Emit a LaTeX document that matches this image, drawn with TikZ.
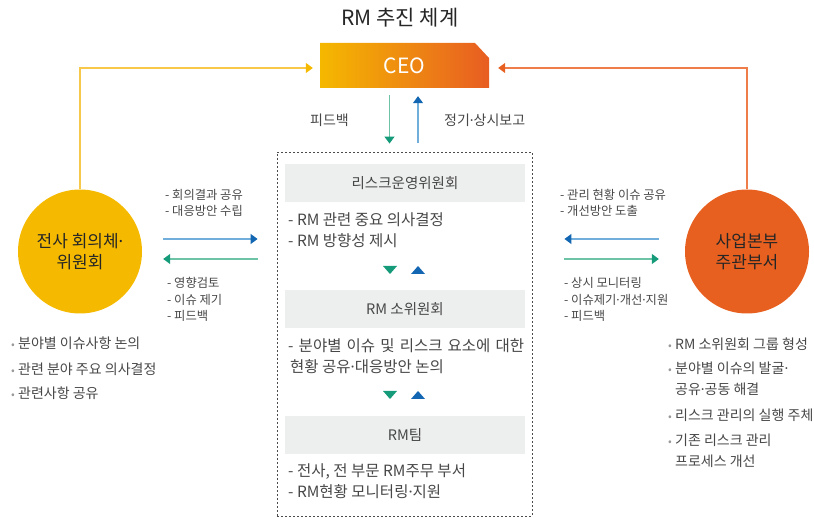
\documentclass[tikz,border=0pt]{standalone}
\usepackage{fontspec}
\setmainfont{Noto Sans CJK KR}
\newfontfamily\dotfont{Noto Sans}
\usetikzlibrary{arrows.meta}

\definecolor{ceoy}{HTML}{F5B800}
\definecolor{ceom}{HTML}{F09A12}
\definecolor{ceoo}{HTML}{E85D22}
\definecolor{cyel}{HTML}{F5BA00}
\definecolor{yline}{HTML}{F8C84A}
\definecolor{corg}{HTML}{E8601F}
\definecolor{oline}{HTML}{EE7D4A}
\definecolor{cgrn}{HTML}{159B7A}
\definecolor{gline}{HTML}{6CC3A6}
\definecolor{cblu}{HTML}{1366B2}
\definecolor{bline}{HTML}{72AEDB}
\definecolor{hdgray}{HTML}{EDEEEE}
\definecolor{txtc}{HTML}{474747}

\newcommand{\bul}{\makebox[7pt][l]{\fontsize{11}{11}\selectfont\textcolor{black!40}{•}}}
\newcommand{\md}{{\dotfont ·}}

\begin{document}
\begin{tikzpicture}[x=1pt,y=-1pt,
    txt/.style={text=txtc,inner sep=0pt,anchor=west,align=left,font=\fontsize{14}{21}\selectfont},
    boxtxt/.style={txt,font=\fontsize{15.5}{21}\selectfont},
    sm/.style={text=txtc,inner sep=0pt,anchor=west,align=left,font=\fontsize{12.3}{16.5}\selectfont},
    hd/.style={fill=hdgray,minimum width=240pt,minimum height=38pt,inner sep=0pt,text=txtc,font=\fontsize{14.5}{17}\selectfont},
    unit/.style={circle,minimum size=124pt,inner sep=0pt,align=center,text=black!85,font=\fontsize{17}{21}\selectfont},
    yarr/.style={yline,line width=1.5pt,-{Triangle[length=7pt,width=10pt,color=cyel]}},
    oarr/.style={oline,line width=1.5pt,-{Triangle[length=7pt,width=10pt,color=corg]}},
    garr/.style={gline,line width=1.5pt,-{Triangle[length=7pt,width=10pt,color=cgrn]}},
    barr/.style={bline,line width=1.5pt,-{Triangle[length=7pt,width=10pt,color=cblu]}}]

    \useasboundingbox (0,0) rectangle (814,518);

    \node[font=\fontsize{21}{24}\selectfont,text=black!85] (title) at (400,18) {RM 추진 체계};

    % CEO box
    \shade[left color=ceoy,middle color=ceom,right color=ceoo]
        (320,43) -- (475,43) -- (489,58) -- (489,88) -- (320,88) -- cycle;
    \node[minimum width=169pt,minimum height=45pt,inner sep=0pt,text=white,
          font=\fontsize{21}{24}\selectfont] (ceo) at (404.5,65.5) {CEO};

    % committee frame
    \node[draw=black!70,dash pattern=on 2pt off 2pt,line width=0.9pt,
          minimum width=255pt,minimum height=364pt,inner sep=0pt] (frame) at (404.5,334) {};

    \node[hd] (h1) at (405,183) {리스크운영위원회};
    \node[boxtxt] (t1) at (288,230) {- RM 관련 중요 의사결정\\- RM 방향성 제시};
    \node[hd] (h2) at (405,309) {RM 소위원회};
    \node[boxtxt] (t2) at (288,356.5) {\makebox[236pt][s]{- 분야별 이슈 및 리스크 요소에 대한}\\\hspace*{2pt}현황 공유\md 대응방안 논의};
    \node[hd] (h3) at (405,435) {RM팀};
    \node[boxtxt] (t3) at (288,481) {- 전사, 전 부문 RM주무 부서\\- RM현황 모니터링\md 지원};

    %triangles
    \foreach \y in {270,395} {
        \fill[cgrn] (383,\y-4) -- (397,\y-4) -- (390,\y+4) -- cycle;
        \fill[cblu] (411,\y+4) -- (425,\y+4) -- (418,\y-4) -- cycle;
    }

    % units
    \node[unit,fill=cyel] (lc) at (80,251.5) {전사 회의체\md\\위원회};
    \node[unit,fill=corg] (rc) at (747,251.5) {사업본부\\주관부서};

    \draw[yarr,shorten >=7pt] (lc.north) |- ([yshift=-2.5pt]ceo.west);
    \draw[oarr,shorten >=9pt] (rc.north) |- ([yshift=-2.5pt]ceo.east);

    \draw[garr,shorten <=7pt,shorten >=8pt] ([xshift=-15pt]ceo.south) -- ([xshift=-15pt]ceo.south |- frame.north);
    \draw[barr,shorten <=9pt,shorten >=8pt] ([xshift=13.5pt]ceo.south |- frame.north) -- ([xshift=13.5pt]ceo.south);
    \node[anchor=west,inner sep=0pt,text=txtc,font=\fontsize{14}{16}\selectfont] (fb) at (310,120) {피드백};
    \node[anchor=west,inner sep=0pt,text=txtc,font=\fontsize{14}{16}\selectfont] (rep) at (444,120) {정기\md 상시보고};

    \draw[barr,shorten <=21pt,shorten >=19pt] ([yshift=12.5pt]lc.east) -- ([yshift=12.5pt]lc.east -| frame.west);
    \draw[garr,shorten <=19pt,shorten >=21pt] ([yshift=-7.5pt]lc.east -| frame.west) -- ([yshift=-7.5pt]lc.east);
    \draw[barr,shorten <=26pt,shorten >=32pt] ([yshift=12.5pt]rc.west) -- ([yshift=12.5pt]rc.west -| frame.east);
    \draw[garr,shorten <=32pt,shorten >=26pt] ([yshift=-7.5pt]rc.west -| frame.east) -- ([yshift=-7.5pt]rc.west);

    \node[sm] (ll1) at (165,203) {- 회의결과 공유\\- 대응방안 수립};
    \node[sm] (ll2) at (167,299.5) {- 영향검토\\- 이슈 제기\\- 피드백};
    \node[sm] (rl1) at (560,203) {- 관리 현황 이슈 공유\\- 개선방안 도출};
    \node[sm] (rl2) at (564,299.5) {- 상시 모니터링\\- 이슈제기\md 개선\md 지원\\- 피드백};

    % bullets
    \node[txt] (lb1) at (11,343) {\bul 분야별 이슈사항 논의};
    \node[txt] (lb2) at (11,369) {\bul 관련 분야 주요 의사결정};
    \node[txt] (lb3) at (11,393) {\bul 관련사항 공유};
    \node[txt] (rb1) at (668,344) {\bul RM 소위원회 그룹 형성};
    \node[txt] (rb2) at (668,378.5) {\bul 분야별 이슈의 발굴\md\\\hspace*{7pt}공유\md 공동 해결};
    \node[txt] (rb3) at (668,415) {\bul 리스크 관리의 실행 주체};
    \node[txt] (rb4) at (668,450.5) {\bul 기존 리스크 관리\\\hspace*{7pt}프로세스 개선};
\end{tikzpicture}
\end{document}
